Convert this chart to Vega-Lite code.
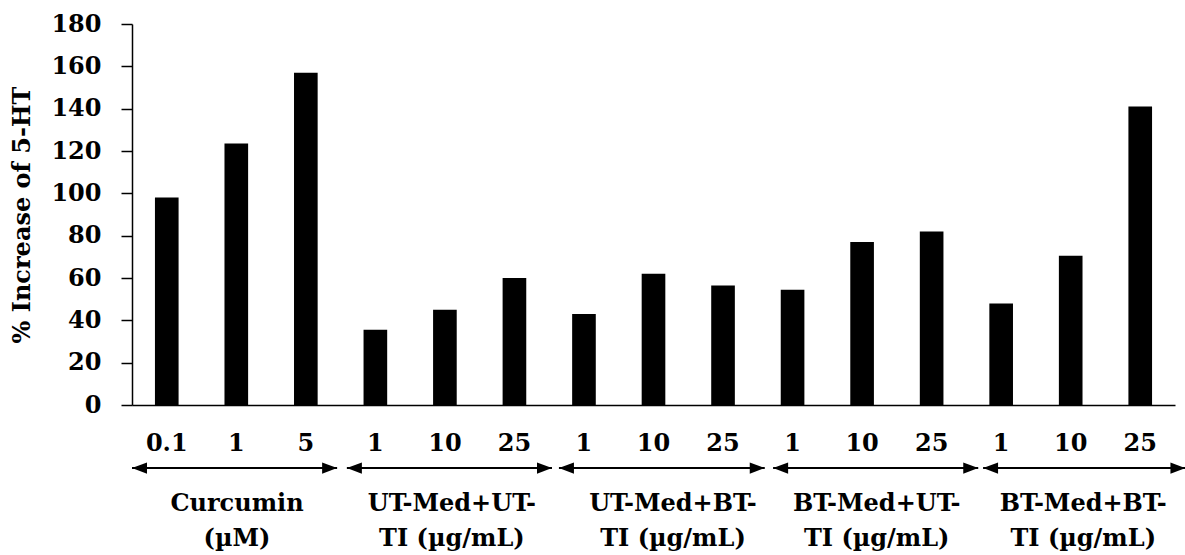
{
  "$schema": "https://vega.github.io/schema/vega-lite/v6.json",
  "width": 1043,
  "height": 381,
  "autosize": {"type": "none"},
  "padding": {"left": 132, "top": 24, "right": 10, "bottom": 150},
  "background": "white",
  "config": {"view": {"stroke": null}, "font": "DejaVu Serif"},
  "datasets": {
    "bars": [
      {"id": "Curcumin|0.1", "group": "Curcumin", "dose": "0.1", "value": 98},
      {"id": "Curcumin|1", "group": "Curcumin", "dose": "1", "value": 123.5},
      {"id": "Curcumin|5", "group": "Curcumin", "dose": "5", "value": 157},
      {"id": "UTUT|1", "group": "UT-Med+UT-TI", "dose": "1", "value": 35.5},
      {"id": "UTUT|10", "group": "UT-Med+UT-TI", "dose": "10", "value": 45},
      {"id": "UTUT|25", "group": "UT-Med+UT-TI", "dose": "25", "value": 60},
      {"id": "UTBT|1", "group": "UT-Med+BT-TI", "dose": "1", "value": 43},
      {"id": "UTBT|10", "group": "UT-Med+BT-TI", "dose": "10", "value": 62},
      {"id": "UTBT|25", "group": "UT-Med+BT-TI", "dose": "25", "value": 56.5},
      {"id": "BTUT|1", "group": "BT-Med+UT-TI", "dose": "1", "value": 54.5},
      {"id": "BTUT|10", "group": "BT-Med+UT-TI", "dose": "10", "value": 77},
      {"id": "BTUT|25", "group": "BT-Med+UT-TI", "dose": "25", "value": 82},
      {"id": "BTBT|1", "group": "BT-Med+BT-TI", "dose": "1", "value": 48},
      {"id": "BTBT|10", "group": "BT-Med+BT-TI", "dose": "10", "value": 70.5},
      {"id": "BTBT|25", "group": "BT-Med+BT-TI", "dose": "25", "value": 141}
    ],
    "groups": [
      {"label": "Curcumin\n(µM)", "start": 0.0, "end": 2.95, "mid": 1.51},
      {"label": "UT-Med+UT-\nTI (µg/mL)", "start": 3.09, "end": 6.04, "mid": 4.6},
      {"label": "UT-Med+BT-\nTI (µg/mL)", "start": 6.14, "end": 9.1, "mid": 7.78},
      {"label": "BT-Med+UT-\nTI (µg/mL)", "start": 9.22, "end": 12.17, "mid": 10.71},
      {"label": "BT-Med+BT-\nTI (µg/mL)", "start": 12.24, "end": 15.15, "mid": 13.68}
    ]
  },
  "layer": [
    {
      "data": {"name": "bars"},
      "mark": {"type": "bar", "color": "black"},
      "encoding": {
        "x": {
          "field": "id", "type": "nominal", "sort": null,
          "scale": {"paddingInner": 0.66, "paddingOuter": 0.33},
          "axis": {
            "title": null, "labelExpr": "split(datum.value, '|')[1]", "labelAngle": 0,
            "ticks": false, "labelPadding": 26, "labelFont": "DejaVu Serif",
            "labelFontSize": 24, "labelFontWeight": "bold", "labelColor": "black",
            "domainColor": "black", "domainWidth": 1.5
          }
        },
        "y": {
          "field": "value", "type": "quantitative",
          "scale": {"domain": [0, 180], "nice": false},
          "axis": {
            "values": [0, 20, 40, 60, 80, 100, 120, 140, 160, 180],
            "title": "% Increase of 5-HT", "titleFont": "DejaVu Serif",
            "titleFontSize": 24, "titleFontWeight": "bold", "titleColor": "black",
            "titlePadding": 16, "labelFont": "DejaVu Serif", "labelFontSize": 24,
            "labelFontWeight": "bold", "labelColor": "black", "labelPadding": 20,
            "tickSize": 11, "tickColor": "black", "tickWidth": 1.5, "grid": false,
            "domainColor": "black", "domainWidth": 1.5
          }
        }
      }
    },
    {
      "data": {"name": "groups"},
      "mark": {"type": "rule", "strokeWidth": 2, "color": "black"},
      "encoding": {
        "x": {"field": "start", "type": "quantitative", "scale": {"domain": [0, 15], "nice": false, "zero": false}, "axis": null},
        "x2": {"field": "end"},
        "y": {"datum": -29.8, "type": "quantitative", "scale": {"domain": [0, 180], "nice": false}}
      }
    },
    {
      "data": {"name": "groups"},
      "mark": {"type": "point", "shape": "M 0 0 L 2 -0.75 L 2 0.75 Z", "size": 225, "filled": true, "color": "black", "opacity": 1, "strokeWidth": 0},
      "encoding": {
        "x": {"field": "start", "type": "quantitative", "scale": {"domain": [0, 15], "nice": false, "zero": false}, "axis": null},
        "y": {"datum": -29.8, "type": "quantitative", "scale": {"domain": [0, 180], "nice": false}}
      }
    },
    {
      "data": {"name": "groups"},
      "mark": {"type": "point", "shape": "M 0 0 L -2 -0.75 L -2 0.75 Z", "size": 225, "filled": true, "color": "black", "opacity": 1, "strokeWidth": 0},
      "encoding": {
        "x": {"field": "end", "type": "quantitative", "scale": {"domain": [0, 15], "nice": false, "zero": false}, "axis": null},
        "y": {"datum": -29.8, "type": "quantitative", "scale": {"domain": [0, 180], "nice": false}}
      }
    },
    {
      "data": {"name": "groups"},
      "mark": {"type": "text", "align": "center", "baseline": "alphabetic", "lineBreak": "\n", "lineHeight": 35, "font": "DejaVu Serif", "fontSize": 24, "fontWeight": "bold", "color": "black"},
      "encoding": {
        "x": {"field": "mid", "type": "quantitative", "scale": {"domain": [0, 15], "nice": false, "zero": false}, "axis": null},
        "y": {"datum": -50.3, "type": "quantitative", "scale": {"domain": [0, 180], "nice": false}},
        "text": {"field": "label"}
      }
    }
  ],
  "resolve": {"scale": {"x": "independent"}}
}
